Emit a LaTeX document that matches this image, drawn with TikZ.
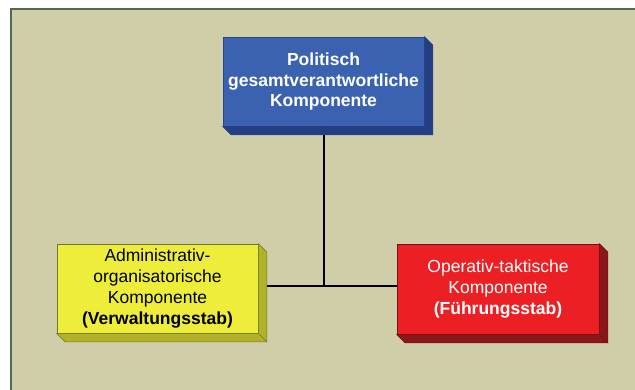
\documentclass[tikz,border=0pt]{standalone}
\usepackage{fontspec}
\setmainfont{Liberation Sans}
\usetikzlibrary{calc}

\definecolor{panel}{RGB}{207,206,169}
\definecolor{panelline}{RGB}{84,104,78}
\definecolor{bluefront}{RGB}{59,98,176}
\definecolor{blueside}{RGB}{36,62,132}
\definecolor{blueedge}{RGB}{40,70,140}
\definecolor{yellowfront}{RGB}{238,238,58}
\definecolor{yellowside}{RGB}{178,178,40}
\definecolor{yellowedge}{RGB}{110,120,40}
\definecolor{redfront}{RGB}{236,32,36}
\definecolor{redside}{RGB}{140,22,26}
\definecolor{rededge}{RGB}{110,18,20}

\tikzset{
  block/.style={rectangle, inner sep=0pt, align=center,
    minimum width=201pt, minimum height=89pt, line width=0.8pt,
    font=\fontsize{17.5}{20.8}\selectfont},
  link/.style={draw=black, line width=2pt},
}

% extruded right and bottom faces behind a block
\newcommand\blockdepth[3]{%
  \fill[#2, draw=#3, line width=0.6pt, line join=round]
    (#1.north east) -- ++(8.5,8.5) -- ($(#1.south east)+(8.5,8.5)$)
    -- ($(#1.south west)+(8.5,8.5)$) -- (#1.south west) -- (#1.south east) -- cycle;
  \draw[#3, line width=0.6pt] (#1.south east) -- ++(8.5,8.5);
}

\begin{document}
\begin{tikzpicture}[x=1pt, y=-1pt]
  \useasboundingbox (0,0) rectangle (635,389);
  \fill[white] (0,0) rectangle (635,389);

  % panel
  \fill[panel] (11,9) rectangle (640,395);
  \draw[panelline, line width=1.5pt] (11,395) -- (11,9) -- (640,9);

  % blocks
  \node[block, fill=bluefront, draw=blueedge, text=white, font=\fontsize{17.5}{20.5}\selectfont\bfseries]
    (top) at (323.5,81.5) {Politisch\\gesamtverantwortliche\\Komponente};
  \node[block, fill=yellowfront, draw=yellowedge, text=black]
    (adm) at (157.5,288.5) {Administrativ-\\organisatorische\\Komponente\\\textbf{(Verwaltungsstab)}};
  \node[block, fill=redfront, draw=rededge, text=white, minimum width=202pt, minimum height=90pt]
    (op) at (498,289) {Operativ-taktische\\Komponente\\\textbf{(Führungsstab)}};

  % connectors
  \coordinate (j) at ($(top.south)+(0,160)$);
  \draw[link] (top.south) -- (j);
  \draw[link] (adm.east |- j) -- (op.west |- j);

  % depth faces
  \blockdepth{top}{blueside}{blueedge}
  \blockdepth{adm}{yellowside}{yellowedge}
  \blockdepth{op}{redside}{rededge}
\end{tikzpicture}
\end{document}
